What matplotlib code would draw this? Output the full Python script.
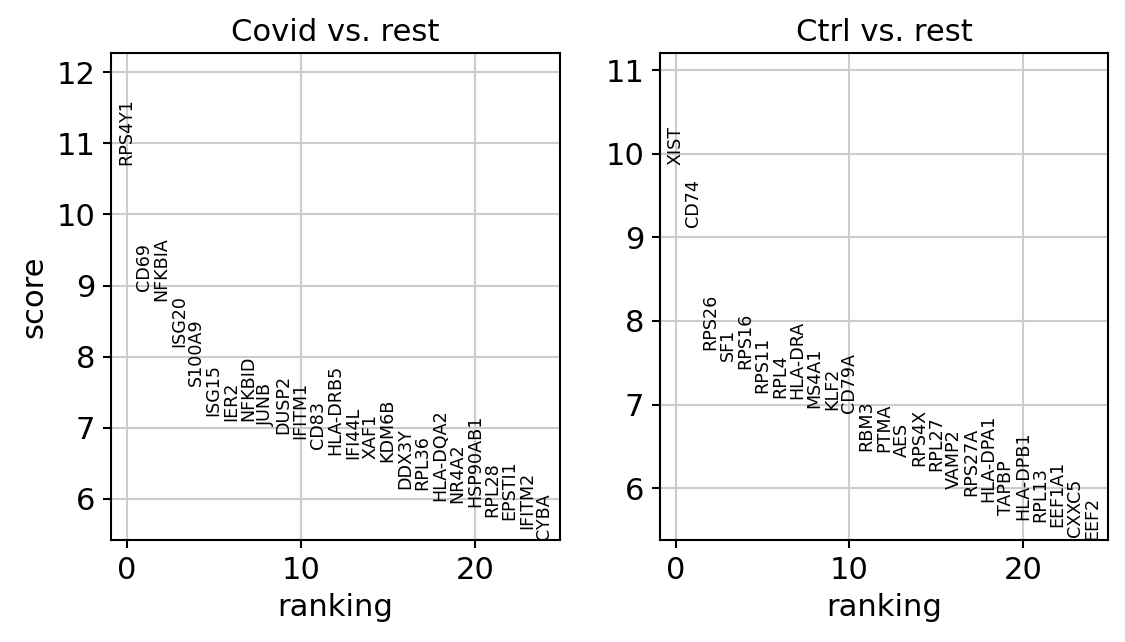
import matplotlib
matplotlib.use("Agg")
import matplotlib.pyplot as plt
import numpy as np

covid_genes = ["RPS4Y1", "CD69", "NFKBIA", "ISG20", "S100A9", "ISG15", "IER2", "NFKBID",
               "JUNB", "DUSP2", "IFITM1", "CD83", "HLA-DRB5", "IFI44L", "XAF1", "KDM6B",
               "DDX3Y", "RPL36", "HLA-DQA2", "NR4A2", "HSP90AB1", "RPL28", "EPSTI1",
               "IFITM2", "CYBA"]
covid_scores = [10.69, 8.93, 8.78, 8.14, 7.58, 7.17, 7.10, 7.09, 7.03, 6.91, 6.84, 6.70,
                6.62, 6.56, 6.56, 6.52, 6.14, 6.13, 5.97, 5.94, 5.89, 5.75, 5.70, 5.58, 5.42]

ctrl_genes = ["XIST", "CD74", "RPS26", "SF1", "RPS16", "RPS11", "RPL4", "HLA-DRA", "MS4A1",
              "KLF2", "CD79A", "RBM3", "PTMA", "AES", "RPS4X", "RPL27", "VAMP2", "RPS27A",
              "HLA-DPA1", "TAPBP", "HLA-DPB1", "RPL13", "EEF1A1", "CXXC5", "EEF2"]
ctrl_scores = [9.86, 9.12, 7.65, 7.52, 7.43, 7.14, 7.08, 7.07, 6.96, 6.93, 6.90, 6.45, 6.43,
               6.37, 6.26, 6.21, 5.99, 5.91, 5.83, 5.68, 5.62, 5.60, 5.53, 5.41, 5.38]

titles = ["Covid vs. rest", "Ctrl vs. rest"]

FS = 14.7
plt.rcParams.update({
    "font.family": "DejaVu Sans",
    "font.size": FS,
    "axes.linewidth": 1.0,
    "xtick.major.width": 1.0,
    "ytick.major.width": 1.0,
    "xtick.major.size": 4.0,
    "ytick.major.size": 4.0,
})

fig = plt.figure(figsize=(7.5, 4.28), dpi=150)
axes = [fig.add_axes([0.0987, 0.1589, 0.3991, 0.7585]),
        fig.add_axes([0.5867, 0.1589, 0.3982, 0.7585])]

for ax, genes, scores, title in zip(axes, [covid_genes, ctrl_genes],
                                    [covid_scores, ctrl_scores], titles):
    scores = np.asarray(scores)
    for ig, (g, s) in enumerate(zip(genes, scores)):
        ax.text(ig, s, g, rotation="vertical", va="bottom", ha="center", fontsize=8.4)
    ax.set_xlim(-0.9, len(genes) - 0.1)
    ymin, ymax = scores.min(), scores.max()
    ax.set_ylim(ymin, ymax + 0.3 * (ymax - ymin))
    ax.set_title(title, fontsize=FS)
    ax.set_xlabel("ranking", fontsize=FS)
    ax.grid(True, color="#cccccc", linewidth=1.0)
    ax.set_axisbelow(True)
    ax.tick_params(labelsize=FS)
    for sp in ax.spines.values():
        sp.set_color("black")

axes[0].set_ylabel("score", fontsize=FS)

fig.savefig("out.png", dpi=150)
